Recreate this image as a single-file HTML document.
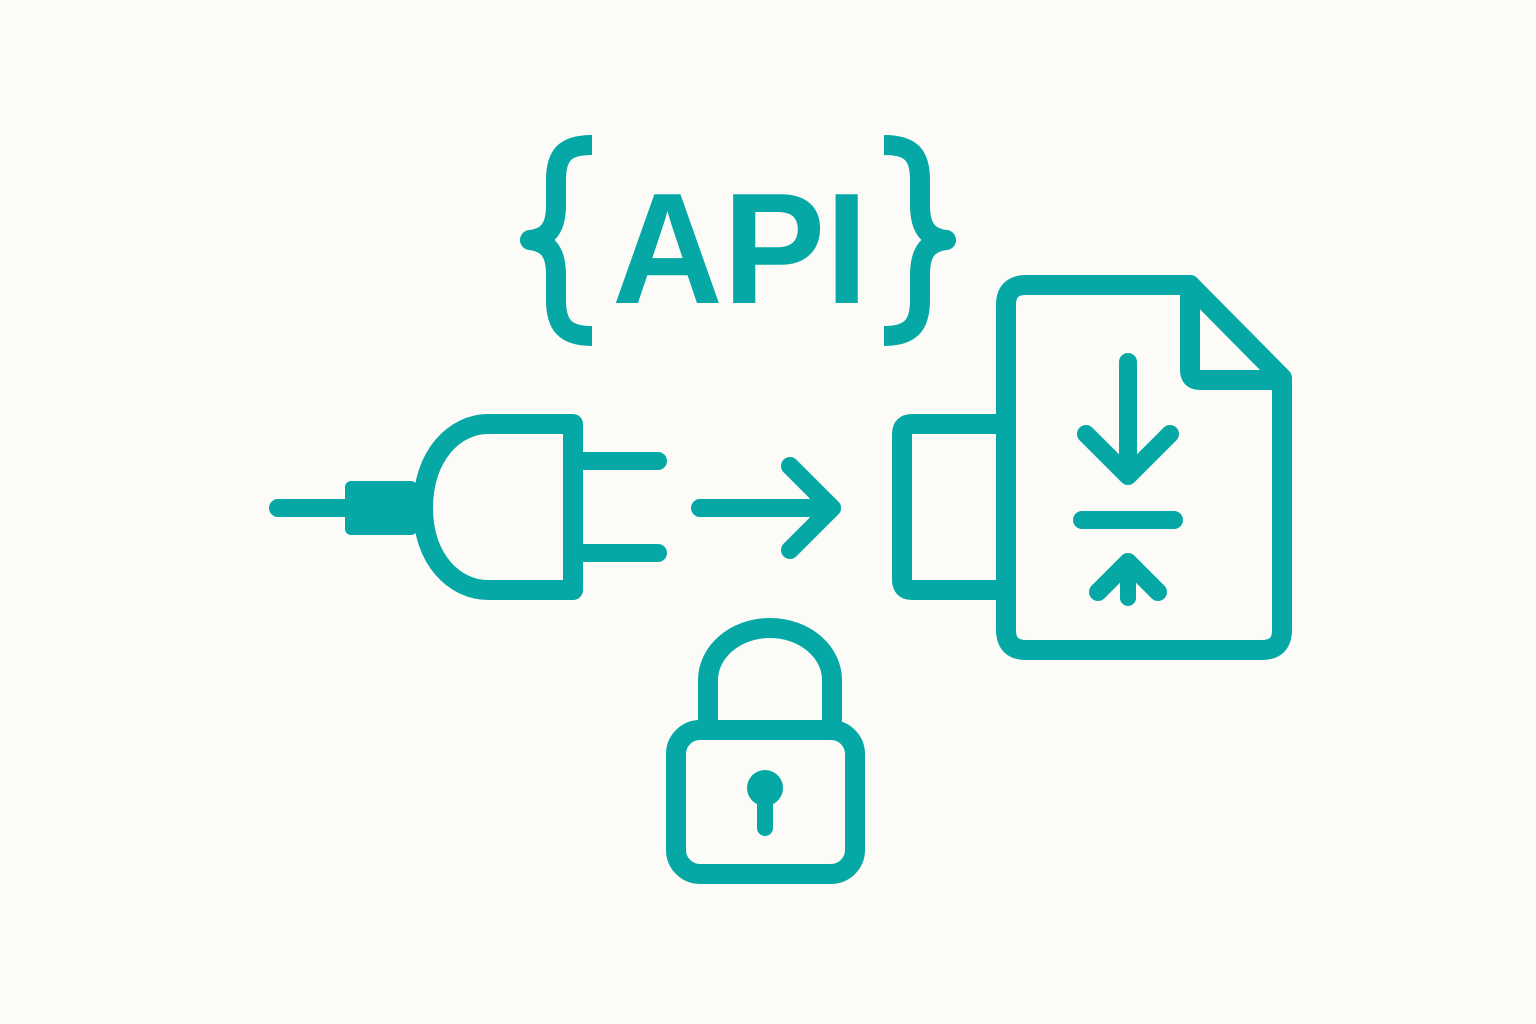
<!DOCTYPE html>
<html><head><meta charset="utf-8"><style>
html,body{margin:0;padding:0;background:#FDFBF7;}
svg{display:block}
</style></head><body>
<svg width="1536" height="1024" viewBox="0 0 1536 1024" xmlns="http://www.w3.org/2000/svg">
<rect width="1536" height="1024" fill="#FDFBF7"/>
<g fill="none" stroke="#05A8A4" stroke-width="20" stroke-linecap="round" stroke-linejoin="round">
  <!-- braces -->
  <path d="M592,145 C565,145 556,155 556,180 L556,205 C556,228 548,238 530,240 C548,242 556,252 556,275 L556,300 C556,325 565,336 592,336" stroke-linecap="butt"/>
  <path d="M884,145 C911,145 920,155 920,180 L920,205 C920,228 928,238 946,240 C928,242 920,252 920,275 L920,300 C920,325 911,336 884,336" stroke-linecap="butt"/>
  <!-- plug -->
  <line x1="278" y1="508" x2="350" y2="508" stroke-width="18"/>
  <path d="M573,424 L488,424 C455,424 423,455 423,508 C423,560 455,590 488,590 L573,590 Z"/>
  <line x1="583" y1="461" x2="658" y2="461" stroke-width="18"/>
  <line x1="583" y1="553" x2="658" y2="553" stroke-width="18"/>
  <!-- arrow -->
  <line x1="700" y1="508" x2="832" y2="508" stroke-width="18"/>
  <polyline points="790,466 832,508 790,550" stroke-width="18"/>
  <!-- socket -->
  <path d="M996,424 L912,424 Q902,424 902,434 L902,580 Q902,590 912,590 L996,590"/>
  <!-- document -->
  <path d="M1026,285 L1190,285 L1282,378 L1282,630 Q1282,650 1262,650 L1026,650 Q1006,650 1006,630 L1006,305 Q1006,285 1026,285 Z"/>
  <path d="M1190,285 L1190,370 Q1190,380 1200,380 L1282,380"/>
  <line x1="1128" y1="362" x2="1128" y2="472" stroke-width="18"/>
  <polyline points="1086,434 1128,476 1170,434" stroke-width="18"/>
  <line x1="1082" y1="520" x2="1174" y2="520" stroke-width="18"/>
  <polyline points="1098,592 1128,562 1158,592" stroke-width="18"/>
  <line x1="1128" y1="566" x2="1128" y2="598" stroke-width="16"/>
  <!-- lock -->
  <path d="M708,720 L708,680 C708,652 735,628 770,628 C805,628 832,652 832,680 L832,720"/>
  <rect x="676" y="730" width="179" height="144" rx="24"/>
  <line x1="765" y1="795" x2="765" y2="828" stroke-width="16"/>
</g>
<g fill="#05A8A4">
  <rect x="345" y="481" width="72" height="54" rx="6"/>
  <circle cx="765" cy="788" r="18"/>
  <text x="612" y="303" font-family="Liberation Sans, sans-serif" font-weight="bold" font-size="158" textLength="256" lengthAdjust="spacingAndGlyphs">API</text>
</g>
</svg>
</body></html>
